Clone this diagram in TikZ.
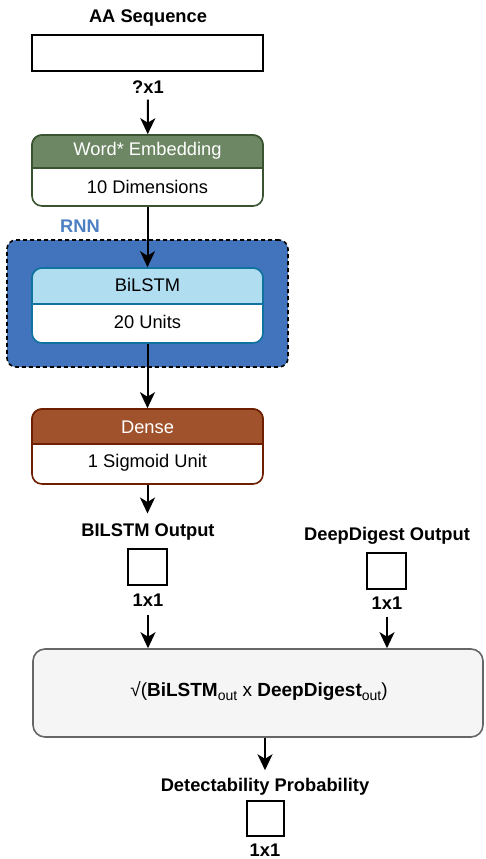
\documentclass[tikz,border=0pt]{standalone}
\usepackage{fontspec}
\setmainfont{Liberation Sans}
\usetikzlibrary{arrows.meta}
\definecolor{embfill}{HTML}{6D8764}
\definecolor{embline}{HTML}{3A5431}
\definecolor{bilfill}{HTML}{B1DDF0}
\definecolor{billine}{HTML}{10739E}
\definecolor{denfill}{HTML}{A0522D}
\definecolor{denline}{HTML}{6D1F00}
\definecolor{rnnfill}{HTML}{4174BD}
\definecolor{rnntext}{HTML}{4D80C3}
\definecolor{formfill}{HTML}{F5F5F5}
\definecolor{formline}{HTML}{666666}
\newcommand{\mysub}[1]{\raisebox{-4.5pt}{\fontsize{14}{14}\selectfont #1}}
\begin{document}
\begin{tikzpicture}[x=1pt,y=-1pt,
  every node/.style={font=\fontsize{18.3}{22}\selectfont, inner sep=0pt},
  lbl/.style={font=\fontsize{18.3}{22}\selectfont\bfseries},
  arr/.style={draw=black, line width=2pt, -{Stealth[length=16pt,width=15pt,inset=4.5pt]}},
  sq/.style={draw=black, line width=2pt, fill=white},
  layer/.style={line width=1.6pt, rounded corners=10pt, fill=white, minimum width=231pt},
]
\useasboundingbox (0,0) rectangle (485,859);

% input
\node[lbl] (aalbl) at (148,18) {AA Sequence};
\node[sq, minimum width=231pt, minimum height=36pt] (aa) at (147.5,53) {};
\node[lbl] (q1) at (148,87) {?x1};

% embedding
\node[layer, draw=embline, minimum height=71pt] (emb) at (147.5,170.5) {};
\path[fill=embfill, draw=embline, line width=1.6pt]
  (32,168) [rounded corners=10pt] -- (32,135) -- (263,135) [sharp corners] -- (263,168) -- cycle;
\node[text=white] (embh) at (147.5,151) {Word* Embedding};
\node (embb) at (147.5,187) {10 Dimensions};

% RNN container
\node[draw=black, dash pattern=on 4pt off 3pt, line width=1.6pt, fill=rnnfill, rounded corners=9pt,
      minimum width=281pt, minimum height=127pt] (rnn) at (147.5,303.5) {};
\node[lbl, text=rnntext] (rnnlbl) at (80,226) {RNN};

% BiLSTM
\node[layer, draw=billine, minimum height=75pt] (bil) at (147.5,305.5) {};
\path[fill=bilfill, draw=billine, line width=1.6pt]
  (32,304) [rounded corners=10pt] -- (32,268) -- (263,268) [sharp corners] -- (263,304) -- cycle;
\node (bilh) at (147.5,285) {BiLSTM};
\node (bilb) at (147.5,322) {20 Units};

% Dense
\node[layer, draw=denline, minimum height=75pt] (den) at (147.5,446.5) {};
\path[fill=denfill, draw=denline, line width=1.6pt]
  (32,444) [rounded corners=10pt] -- (32,409) -- (263,409) [sharp corners] -- (263,444) -- cycle;
\node[text=white] (denh) at (147.5,427) {Dense};
\node (denb) at (147.5,463) {1 Sigmoid Unit};

% outputs
\node[lbl] (bolbl) at (148,532) {BILSTM Output};
\node[sq, minimum width=39pt, minimum height=36pt] (bosq) at (147.5,567) {};
\node[lbl] (o1) at (148,600) {1x1};

\node[lbl] (ddlbl) at (387,536) {DeepDigest Output};
\node[sq, minimum width=39pt, minimum height=36pt] (ddsq) at (386.5,571) {};
\node[lbl] (d1) at (387,603) {1x1};

% formula
\node[draw=formline, fill=formfill, line width=1.6pt, rounded corners=12pt,
      minimum width=450pt, minimum height=88pt] (form) at (258,693) {};
\node[font=\fontsize{19}{22}\selectfont] (ft) at (259,691) {{\char"221A}(\textbf{BiLSTM}\mysub{out} x \textbf{DeepDigest}\mysub{out})};

% result
\node[lbl] (detlbl) at (265,787) {Detectability Probability};
\node[sq, minimum width=37pt, minimum height=35pt] (detsq) at (265.5,818.5) {};
\node[lbl] (r1) at (265,850) {1x1};

% connectors
\draw[arr, shorten <=6pt] (q1) -- (emb);
\draw[arr] (emb.south) -- (bil.north);
\draw[arr] (bil.south) -- (den.north);
\draw[arr, shorten >=10pt] (den) -- (den |- bolbl.north);
\draw[arr, shorten <=8pt] (o1) -- (o1 |- form.north);
\draw[arr, shorten <=7pt] (d1) -- (d1 |- form.north);
\draw[arr, shorten >=8pt] (detlbl |- form.south) -- (detlbl);
\end{tikzpicture}
\end{document}
